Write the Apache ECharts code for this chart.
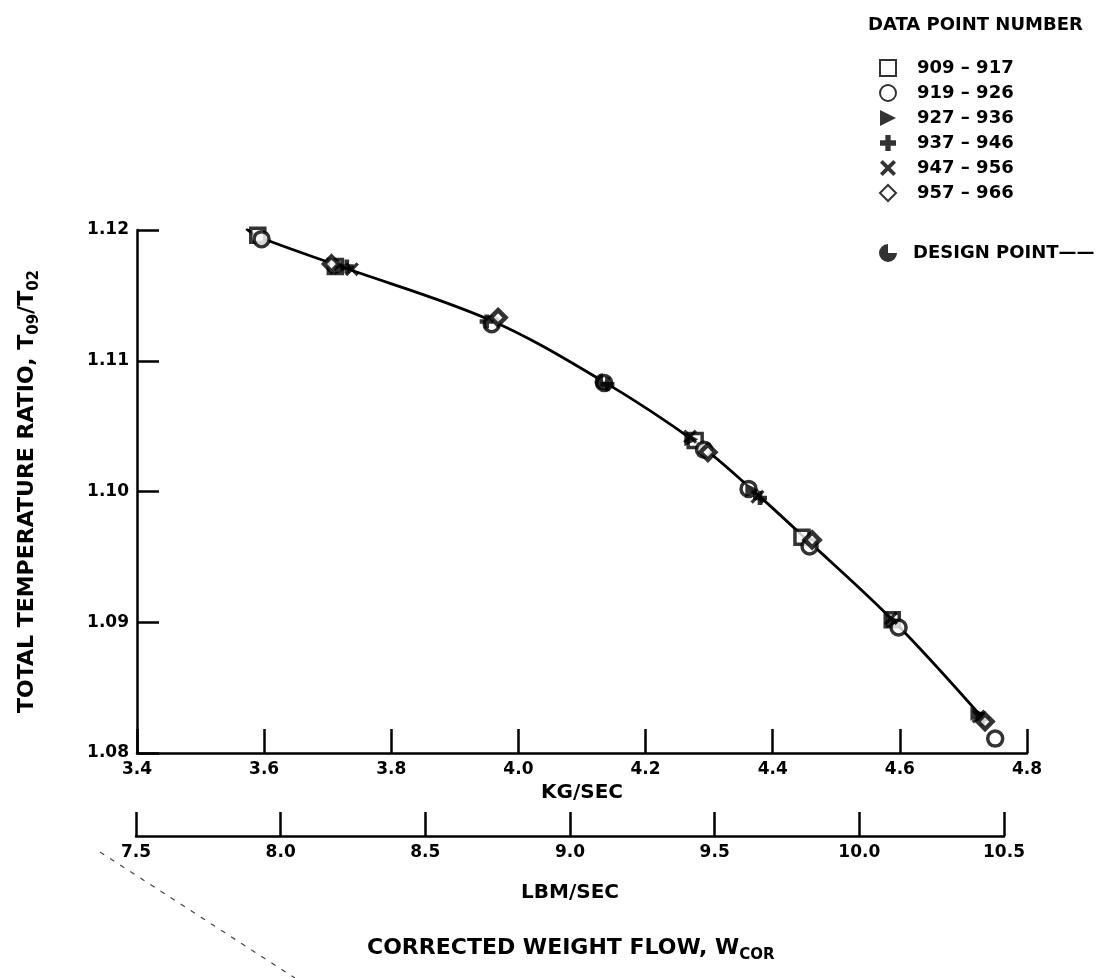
<!DOCTYPE html>
<html><head><meta charset="utf-8">
<style>html,body{margin:0;padding:0;background:#fff}#c{width:1102px;height:978px}</style>
</head><body><div id="c"></div>
<script src="https://cdn.jsdelivr.net/npm/echarts@6.0.0/dist/echarts.min.js"></script>
<script>
// ---- data ----
const kgTicks = [3.4, 3.6, 3.8, 4.0, 4.2, 4.4, 4.6, 4.8];
const lbmTicks = [7.5, 8.0, 8.5, 9.0, 9.5, 10.0, 10.5];
const ratioTicks = [1.08, 1.09, 1.10, 1.11, 1.12];

// faired curve (kg/sec, T09/T02)
const curveKg    = [3.572, 3.590, 3.715, 3.956, 4.134, 4.281, 4.364, 4.454, 4.592, 4.728];
const curveRatio = [1.1201, 1.1195, 1.1173, 1.1131, 1.1084, 1.1037, 1.1003, 1.0963, 1.0900, 1.0828];

const legendNames = ['909 – 917', '919 – 926', '927 – 936', '937 – 946', '947 – 956', '957 – 966'];
const designName = 'DESIGN POINT——';

const pts909 = [[3.590,1.1196],[3.712,1.1172],[4.278,1.1039],[4.446,1.0965],[4.588,1.0902]];
const pts919 = [[3.596,1.1193],[3.958,1.1128],[4.135,1.1083],[4.292,1.1032],[4.362,1.1002],[4.458,1.0958],[4.598,1.0896],[4.750,1.0811]];
const pts927 = [[3.722,1.1171],[4.272,1.1040],[4.368,1.1001],[4.590,1.0901],[4.722,1.0830]];
const pts937 = [[3.730,1.1172],[3.950,1.1130],[4.140,1.1082],[4.380,1.0995],[4.730,1.0826]];
const pts947 = [[3.566,1.1204],[3.738,1.1170],[4.270,1.1042],[4.376,1.0996],[4.586,1.0903],[4.724,1.0828]];
const pts957 = [[3.706,1.1174],[3.968,1.1133],[4.298,1.1030],[4.462,1.0963],[4.734,1.0824]];
const ptsDesign = [[4.133,1.1084]];

// ---- chart ----
const FONT = '"DejaVu Sans", sans-serif';
const txt = (size) => ({fontFamily: FONT, fontSize: size, fontWeight: 'bold', color: '#000'});
const curveData = curveKg.map((k, i) => [k, curveRatio[i]]);

const PLUS = 'path://M4,0H8V4H12V8H8V12H4V8H0V4H4Z';
const CROSS = 'path://M0,2L2,0L6,4L10,0L12,2L8,6L12,10L10,12L6,8L2,12L0,10L4,6Z';
const TRI = 'path://M0,0L12,6L0,12Z';
const DESIGN = 'path://M0,-10A10,10 0 0 0 -10,0L0,0Z M10,0A10,10 0 0 1 0,10L0,0Z M0,0L-10,0A10,10 0 0 0 0,10Z';

function scatter(name, data, symbol, size, style) {
  return {
    name: name, type: 'scatter', xAxisIndex: 0, yAxisIndex: 0,
    data: data, symbol: symbol, symbolSize: size, itemStyle: style, z: 3
  };
}

const chart = echarts.init(document.getElementById('c'));
chart.setOption({
  backgroundColor: '#fff',
  animation: false,
  title: [{text: 'DATA POINT NUMBER', left: 863, top: 11, textStyle: txt(18)}],
  legend: [
    {orient: 'vertical', left: 874, top: 54, itemWidth: 16, itemHeight: 16, itemGap: 7,
     selectedMode: false,
     data: legendNames.map((n, i) => i === 2 ? {name: n, icon: TRI} : n),
     textStyle: Object.assign(txt(18), {padding: [0, 0, 0, 16]})},
    {orient: 'vertical', left: 874, top: 239, itemWidth: 18, itemHeight: 18,
     selectedMode: false, data: [designName],
     textStyle: Object.assign(txt(18), {padding: [0, 0, 0, 11]})}
  ],
  grid: [
    {left: 137, right: 75, top: 230, bottom: 225},
    {left: 136, right: 98, top: 800, height: 36}
  ],
  xAxis: [
    {gridIndex: 0, type: 'value', min: kgTicks[0], max: kgTicks[kgTicks.length - 1], interval: 0.2,
     axisLine: {onZero: false, lineStyle: {color: '#000', width: 2.5}},
     axisTick: {inside: true, length: 24, lineStyle: {color: '#000', width: 2.5}},
     axisLabel: Object.assign(txt(17), {margin: 8, formatter: v => v.toFixed(1)}),
     splitLine: {show: false},
     name: 'KG/SEC', nameLocation: 'middle', nameGap: 30, nameTextStyle: txt(20)},
    {gridIndex: 1, type: 'value', min: lbmTicks[0], max: lbmTicks[lbmTicks.length - 1], interval: 0.5,
     axisLine: {onZero: false, lineStyle: {color: '#000', width: 2.5}},
     axisTick: {inside: true, length: 24, lineStyle: {color: '#000', width: 2.5}},
     axisLabel: Object.assign(txt(17), {margin: 8, formatter: v => v.toFixed(1)}),
     splitLine: {show: false},
     name: 'LBM/SEC', nameLocation: 'middle', nameGap: 47, nameTextStyle: txt(20)}
  ],
  yAxis: [
    {gridIndex: 0, type: 'value', min: ratioTicks[0], max: ratioTicks[ratioTicks.length - 1], interval: 0.01,
     axisLine: {show: true, onZero: false, lineStyle: {color: '#000', width: 2.5}},
     axisTick: {show: true, inside: true, length: 22, lineStyle: {color: '#000', width: 2.5}},
     axisLabel: Object.assign(txt(17), {margin: 8, formatter: v => v.toFixed(2)}),
     splitLine: {show: false},
     name: 'TOTAL TEMPERATURE RATIO, T{s|09}/T{s|02}',
     nameLocation: 'middle', nameRotate: 90, nameGap: 95,
     nameTextStyle: Object.assign(txt(22), {lineHeight: 30,
       rich: {s: {fontFamily: FONT, fontSize: 15, fontWeight: 'bold', color: '#000', verticalAlign: 'bottom', lineHeight: 15}}})},
    {gridIndex: 1, type: 'value', show: false, min: 0, max: 1}
  ],
  series: [
    {name: 'curve', type: 'line', xAxisIndex: 0, yAxisIndex: 0, data: curveData,
     smooth: 0.35, showSymbol: false, symbol: 'none',
     lineStyle: {color: '#000', width: 2.8}, z: 2, silent: true},
    scatter(legendNames[0], pts909, 'rect', 14, {color: '#fff', borderColor: '#000', borderWidth: 3.5}),
    scatter(legendNames[1], pts919, 'circle', 15, {color: '#fff', borderColor: '#000', borderWidth: 3.5}),
    scatter(legendNames[2], pts927, TRI, 14, {color: '#000'}),
    scatter(legendNames[3], pts937, PLUS, 14, {color: '#000'}),
    scatter(legendNames[4], pts947, CROSS, 14, {color: '#000'}),
    scatter(legendNames[5], pts957, 'diamond', 15, {color: '#fff', borderColor: '#000', borderWidth: 4.5}),
    scatter(designName, ptsDesign, DESIGN, 17, {color: '#000'})
  ],
  graphic: [
    {type: 'text', left: 367, top: 933, z: 10,
     style: {text: 'CORRECTED WEIGHT FLOW, W{s|COR}', fill: '#000',
       font: 'bold 22px "DejaVu Sans", sans-serif', lineHeight: 30,
       rich: {s: {fontFamily: FONT, fontSize: 15, fontWeight: 'bold', fill: '#000', verticalAlign: 'bottom', lineHeight: 15}}}},
    {type: 'line', z: 1, shape: {x1: 100, y1: 852, x2: 295, y2: 978},
     style: {stroke: '#444', lineWidth: 1.2, lineDash: [5, 7]}}
  ]
});
</script>
</body></html>
